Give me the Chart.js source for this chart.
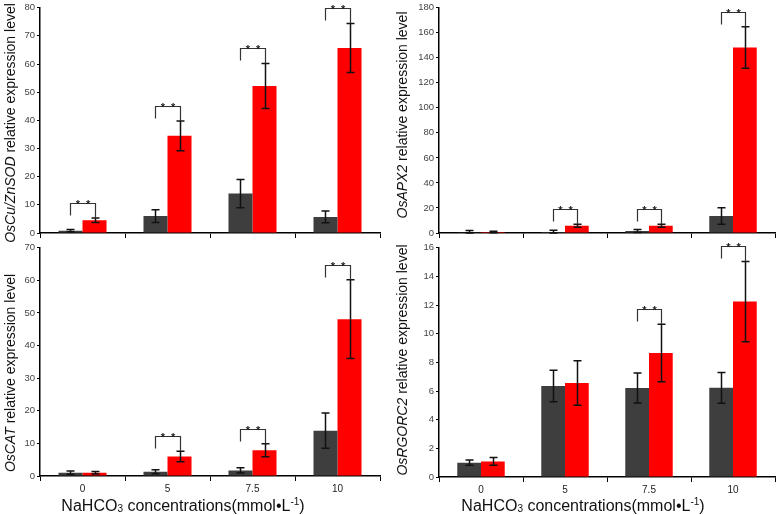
<!DOCTYPE html>
<html>
<head>
<meta charset="utf-8">
<script src="https://cdn.jsdelivr.net/npm/chart.js@4/dist/chart.umd.min.js"></script>
<style>
  html, body { margin: 0; padding: 0; background: #fff; }
  #wrap { position: relative; width: 778px; height: 515px; overflow: hidden; font-family: "Liberation Sans", Arial, sans-serif; }
  canvas { position: absolute; }
  .ytitle { position: absolute; white-space: nowrap; font-size: 14px; color: #111; transform: translate(-50%, -50%) rotate(-90deg); }
  .xtitle { position: absolute; white-space: nowrap; font-size: 16px; color: #111; transform: translate(-50%, -50%); }
  .xtitle sub { font-size: 10px; vertical-align: -1px; }
  .xtitle sup { font-size: 10px; vertical-align: 6px; }
</style>
</head>
<body>
<div id="wrap">
  <canvas id="c1" width="390" height="250" style="left:0;top:0"></canvas>
  <canvas id="c2" width="388" height="250" style="left:390px;top:0"></canvas>
  <canvas id="c3" width="390" height="275" style="left:0;top:240px"></canvas>
  <canvas id="c4" width="388" height="275" style="left:390px;top:240px"></canvas>
  <div class="ytitle" style="left:10px;top:123px"><i>OsCu/ZnSOD</i> relative expression level</div>
  <div class="ytitle" style="left:402px;top:115px"><i>OsAPX2</i> relative expression level</div>
  <div class="ytitle" style="left:10px;top:373px"><i>OsCAT</i> relative expression level</div>
  <div class="ytitle" style="left:402px;top:360px"><i>OsRGORC2</i> relative expression level</div>
  <div class="xtitle" style="left:183px;top:505px">NaHCO<sub>3</sub> concentrations(mmol•L<sup>-1</sup>)</div>
  <div class="xtitle" style="left:583px;top:505px">NaHCO<sub>3</sub> concentrations(mmol•L<sup>-1</sup>)</div>
</div>
<script>
// ---- data ----
const categories = ['0', '5', '7.5', '10'];

// OsCu/ZnSOD
const sodControl = [0.8, 6.0, 14.0, 5.7];
const sodControlErr = [0.4, 2.3, 5.0, 2.1];
const sodTreated = [4.5, 34.5, 52.2, 65.7];
const sodTreatedErr = [0.8, 5.3, 8.0, 8.7];
const sodSignificant = [true, true, true, true];

// OsAPX2
const apxControl = [0.5, 0.8, 1.5, 13.5];
const apxControlErr = [1.5, 1.4, 1.2, 6.6];
const apxTreated = [0.8, 5.8, 5.8, 148.2];
const apxTreatedErr = [0.6, 1.2, 1.2, 16.6];
const apxSignificant = [false, true, true, true];

// OsCAT
const catControl = [1.0, 1.3, 1.7, 13.9];
const catControlErr = [0.5, 0.6, 0.8, 5.4];
const catTreated = [1.0, 6.0, 7.9, 48.1];
const catTreatedErr = [0.4, 1.6, 2.0, 12.1];
const catSignificant = [false, true, true, true];

// OsRGORC2
const rgoControl = [1.0, 6.35, 6.21, 6.22];
const rgoControlErr = [0.18, 1.1, 1.05, 1.07];
const rgoTreated = [1.09, 6.56, 8.65, 12.24];
const rgoTreatedErr = [0.27, 1.55, 2.0, 2.8];
const rgoSignificant = [false, false, true, true];

const yMax = [80, 180, 70, 16];
const yStep = [10, 20, 10, 2];

// ---- plugins ----
const errorBarPlugin = {
  id: 'errorBars',
  afterDatasetsDraw(chart) {
    const ctx = chart.ctx;
    const y = chart.scales.y;
    ctx.save();
    ctx.strokeStyle = '#111';
    ctx.lineWidth = 1.5;
    chart.data.datasets.forEach((ds, i) => {
      const meta = chart.getDatasetMeta(i);
      meta.data.forEach((bar, j) => {
        const v = ds.data[j], e = ds.errors[j];
        const yt = y.getPixelForValue(v + e);
        const yb = y.getPixelForValue(Math.max(0, v - e));
        const x = Math.round(bar.x) + 0.5;
        ctx.beginPath();
        ctx.moveTo(x, yt); ctx.lineTo(x, yb);
        ctx.moveTo(x - 4, yt); ctx.lineTo(x + 4, yt);
        ctx.moveTo(x - 4, yb); ctx.lineTo(x + 4, yb);
        ctx.stroke();
      });
    });
    ctx.restore();
  }
};

const sigPlugin = {
  id: 'sig',
  afterDatasetsDraw(chart) {
    const sig = chart.options.plugins.sig.flags;
    const ctx = chart.ctx;
    const y = chart.scales.y;
    const m0 = chart.getDatasetMeta(0), m1 = chart.getDatasetMeta(1);
    const d1 = chart.data.datasets[1];
    ctx.save();
    ctx.strokeStyle = '#333';
    ctx.lineWidth = 1.2;
    ctx.fillStyle = '#222';
    ctx.font = 'bold 11px "Liberation Sans", Arial, sans-serif';
    ctx.textAlign = 'center';
    ctx.textBaseline = 'alphabetic';
    sig.forEach((s, j) => {
      if (!s) return;
      const xl = Math.round(m0.data[j].x) + 0.5;
      const xr = Math.round(m1.data[j].x) + 0.5;
      const yr = y.getPixelForValue(d1.data[j] + d1.errors[j]);
      const yt = Math.round(yr - 15) + 0.5;
      ctx.beginPath();
      ctx.moveTo(xl, yt + 12); ctx.lineTo(xl, yt); ctx.lineTo(xr, yt); ctx.lineTo(xr, yr);
      ctx.stroke();
      ctx.fillText('*  *', (xl + xr) / 2, yt + 4);
    });
    ctx.restore();
  }
};

function makePanel(id, ctrl, ctrlErr, trt, trtErr, flags, max, step, showX, pad, yWidth, xHeight) {
  new Chart(document.getElementById(id), {
    type: 'bar',
    data: {
      labels: categories,
      datasets: [
        { data: ctrl, errors: ctrlErr, backgroundColor: '#3e3e3e', borderWidth: 0, barPercentage: 1, categoryPercentage: 0.565 },
        { data: trt, errors: trtErr, backgroundColor: '#ff0000', borderWidth: 0, barPercentage: 1, categoryPercentage: 0.565 }
      ]
    },
    options: {
      responsive: false,
      animation: false,
      layout: { padding: pad },
      plugins: { legend: { display: false }, tooltip: { enabled: false }, sig: { flags: flags } },
      scales: {
        x: {
          offset: true,
          grid: { offset: true, drawOnChartArea: false, drawTicks: true, tickLength: 5, color: '#000', lineWidth: 1 },
          border: { display: true, color: '#000', width: 1.5 },
          ticks: { display: showX, color: '#222', font: { size: 10, family: '"Liberation Sans", Arial, sans-serif' }, padding: 2 },
          afterFit(scale) { scale.height = xHeight; }
        },
        y: {
          min: 0, max: max,
          grid: { drawOnChartArea: false, drawTicks: true, tickLength: 3, color: '#000', lineWidth: 1 },
          border: { display: true, color: '#000', width: 1.5 },
          ticks: { stepSize: step, color: '#444', font: { size: 9.5, family: '"Liberation Sans", Arial, sans-serif' }, padding: 2 },
          afterFit(scale) { scale.width = yWidth; }
        }
      }
    },
    plugins: [errorBarPlugin, sigPlugin]
  });
}

makePanel('c1', sodControl, sodControlErr, sodTreated, sodTreatedErr, sodSignificant, yMax[0], yStep[0], false,
  { left: 0, right: 10, top: 6, bottom: 0 }, 40, 17);
makePanel('c2', apxControl, apxControlErr, apxTreated, apxTreatedErr, apxSignificant, yMax[1], yStep[1], false,
  { left: 0, right: 3, top: 5, bottom: 0 }, 49, 17);
makePanel('c3', catControl, catControlErr, catTreated, catTreatedErr, catSignificant, yMax[2], yStep[2], true,
  { left: 0, right: 10, top: 6, bottom: 0 }, 40, 39);
makePanel('c4', rgoControl, rgoControlErr, rgoTreated, rgoTreatedErr, rgoSignificant, yMax[3], yStep[3], true,
  { left: 0, right: 3, top: 6, bottom: 0 }, 49, 38);
</script>
</body>
</html>
